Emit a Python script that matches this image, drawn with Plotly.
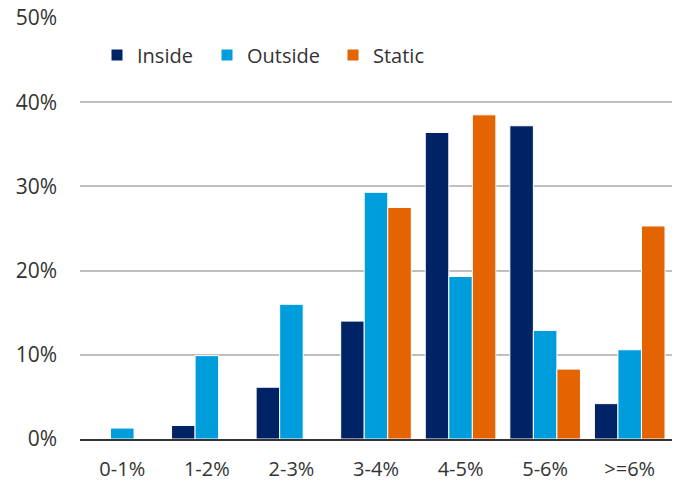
import plotly.graph_objects as go

categories = ["0-1%", "1-2%", "2-3%", "3-4%", "4-5%", "5-6%", ">=6%"]
inside = [None, 1.6, 6.15, 14.0, 36.4, 37.2, 4.2]
outside = [1.3, 9.9, 16.0, 29.3, 19.3, 12.9, 10.6]
static = [None, None, None, 27.5, 38.5, 8.3, 25.3]
y_ticks = [0, 10, 20, 30, 40, 50]
y_labels = ["0%", "10%", "20%", "30%", "40%", "50%"]

W, H = 679, 483
FONT = "Open Sans"
TXT = "#333333"

fig = go.Figure()
series = [
    ("Inside", inside, "#002366", "legend", 137),
    ("Outside", outside, "#009DDC", "legend2", 247),
    ("Static", static, "#E36400", "legend3", 373),
]
for name, vals, col, lg, _ in series:
    fig.add_trace(go.Bar(
        x=categories, y=vals, name=name,
        marker=dict(color=col, line=dict(color="white", width=1)),
        legend=lg,
    ))

legend_common = dict(
    orientation="h", xref="container", yref="container",
    xanchor="left", yanchor="middle",
    font=dict(family=FONT, size=20, color=TXT),
    bgcolor="rgba(0,0,0,0)", borderwidth=0,
)
lay_legends = {}
for name, vals, col, lg, tx in series:
    lay_legends[lg] = dict(legend_common, x=(tx - 40) / W, y=1 - 55 / H)

fig.update_layout(
    width=W, height=H,
    margin=dict(l=80, r=7, t=18, b=44, autoexpand=False),
    paper_bgcolor="white", plot_bgcolor="white",
    barmode="group", bargap=0.165, bargroupgap=0.0,
    font=dict(family=FONT, size=20, color=TXT),
    showlegend=True,
    **lay_legends,
)
fig.update_yaxes(
    range=[0, 50], tickvals=y_ticks, ticktext=y_labels,
    showgrid=True, gridcolor="#BFBFBF", gridwidth=2,
    zeroline=False, showline=False,
    ticks="", ticklabelstandoff=22,
    tickfont=dict(family=FONT, size=21, color=TXT),
)
fig.update_xaxes(
    showline=True, linecolor="#333333", linewidth=2,
    ticks="", ticklabelstandoff=11,
    tickfont=dict(family=FONT, size=20, color=TXT),
)
fig.write_html("out.html")
